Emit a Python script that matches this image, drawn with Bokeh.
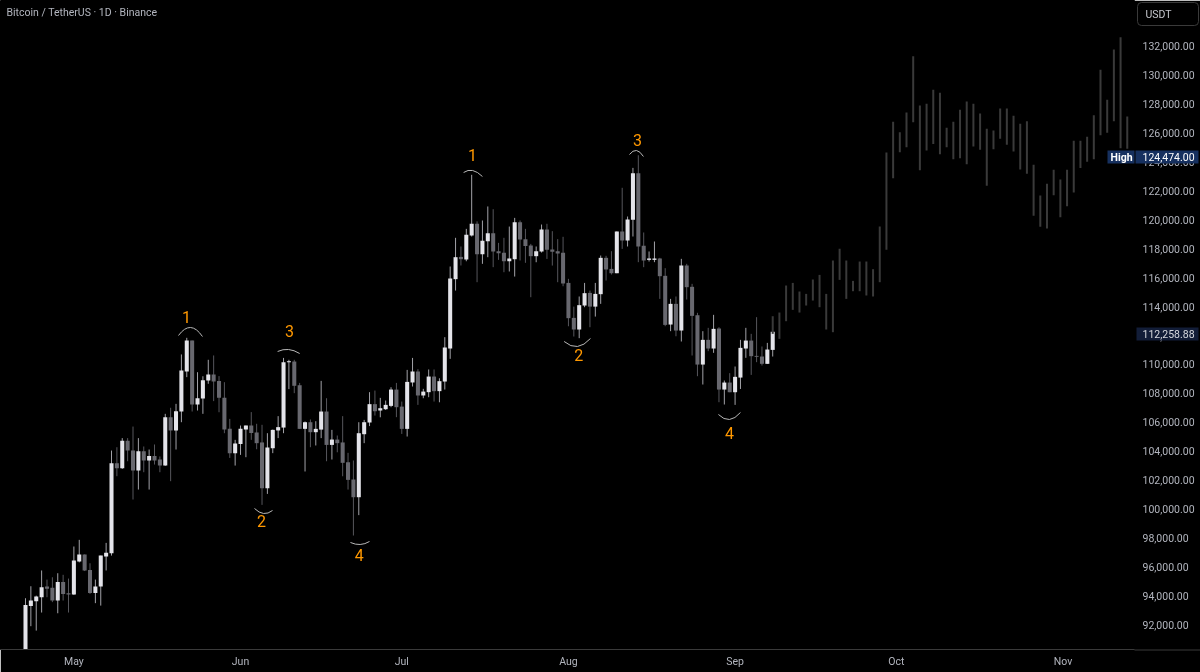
from bokeh.plotting import figure
from bokeh.models import Range1d, Label, FixedTicker, NumeralTickFormatter, LinearAxis
from bokeh.layouts import column
from bokeh.core.properties import value
from bokeh.embed import file_html
from bokeh.resources import INLINE
import numpy as np

# daily candles, bar 0 is 9 days before May 1
opens = [90200,93290,93610,93890,94630,94540,93660,94950,94170,94080,
96360,96850,95780,94190,94630,96700,96940,103165,102820,104710,
104040,102660,103995,103350,103670,103420,103000,106350,105430,106740,
109510,111650,107230,107640,108890,109300,108860,107690,105540,103860,
104500,105490,105770,105290,104600,101430,104200,105430,105630,110150,
110200,108560,105540,106000,105310,105490,106740,104430,104800,104600,
103230,102035,100810,105170,105980,107250,106810,106900,107130,108260,
107080,105540,108750,109510,107850,108080,109160,108150,108815,111100,
115900,117440,117260,118920,119730,117630,118530,119080,117835,117720,
117140,117280,119840,118670,118230,117490,117810,119335,117950,117835,
117720,115640,113220,112415,114075,114950,114000,114860,117375,116610,
116310,119200,118575,120005,123235,118205,117235,117235,117330,116130,
112760,114190,112345,116845,115370,113405,109990,111700,111100,112485,
108260,108745,108075,109090,111100,111650,110590,110545,110040,111005]

closes = [93360,93660,93940,94580,94470,93660,94950,94120,94080,96430,
96850,95740,94190,94630,96770,96960,103165,102820,104710,104040,
102660,103995,103350,103670,103350,103000,106350,105430,106760,109580,
111650,107230,107660,108910,109300,108820,107690,105490,103860,104530,
105540,105770,105260,104550,101430,104250,105470,105660,110150,110220,
108520,105540,106000,105310,105540,106740,104430,104800,104550,103190,
102010,100810,105240,106000,107250,106760,106970,107200,108260,107040,
105540,108790,109510,107850,108120,109160,108150,108840,111170,115945,
117420,117280,118970,119730,117630,118550,119080,117810,117700,117140,
117330,119840,118640,118200,117490,117835,119335,117930,117790,117675,
115600,113200,112415,114100,114930,114000,114880,117375,116570,116310,
119200,118575,120030,123235,118160,117190,117330,117330,116105,112735,
114190,112345,116845,115345,113360,109990,111700,111100,112460,108260,
108745,108075,109140,111145,111650,110570,110525,110040,111030,112258.88]

highs = [93820,94650,94000,95740,95110,95270,95550,95440,95180,97400,
97860,96850,96240,95110,96770,97650,104040,104270,104900,104900,
105700,104900,104320,104110,104460,103630,106580,107000,107270,110690,
111840,111650,109460,109180,110320,110620,109190,108770,106230,104780,
105770,105770,106700,105890,105820,105240,105490,106420,110450,110320,
110320,108720,106050,106190,106070,108860,107660,105470,105080,106420,
103880,103350,106000,106160,108080,108190,107685,107500,108420,108720,
107430,109620,110450,109670,108310,109650,109650,109040,111885,116775,
118760,118160,119380,123120,119900,119960,120930,120740,118410,118760,
119540,120140,119960,119380,118340,118160,119680,119730,119220,118670,
118830,115920,114000,114700,115640,115110,115640,117535,117515,117835,
119200,122220,120235,123600,124474,119130,117815,118505,117375,116660,
114535,114700,117305,116960,115575,113570,112300,112530,113430,112575,
108885,109395,109855,111700,112530,112115,113270,111240,111490,112300]

lows = [89900,91885,91580,92830,93890,93550,92780,93660,92830,94050,
96300,95700,94120,93480,93310,95740,96770,102265,102770,103300,
100650,101340,102540,101340,103070,102540,102980,101920,104110,106000,
109120,106740,106810,106580,108660,107460,106690,105240,103530,103000,
103740,103580,104780,104130,100280,101040,103860,104900,105240,108290,
108010,105540,102590,104270,104390,104900,103300,103420,103920,102260,
101340,98160,99570,104550,105730,106460,106340,106850,107040,106350,
105190,105010,108470,107200,107660,107730,107430,107380,108260,110385,
115110,116845,117140,118850,115690,116960,117420,116730,117235,116380,
116430,116080,117190,117030,114650,117070,117740,117300,116840,115690,
115410,112640,111930,111815,113960,112575,113310,114190,115805,116220,
116310,117995,118160,118850,117075,116730,117120,117075,114535,112645,
112300,111950,111585,114490,110615,109185,108610,110915,110800,107385,
107225,108075,107200,108300,110455,109275,110155,109925,110040,110545]

# faded projection bars after the last candle
ghost_high = [113336,113590,115460,115640,115045,114880,115875,116195,114880,117190,
118000,117190,115780,117120,117120,116590,119540,124660,126785,126070,
127430,131330,127920,128030,129000,128795,126370,126785,127615,128195,
128030,127360,126300,126185,127710,127710,127200,126650,126830,123810,
121690,122495,123465,122795,123465,125470,125470,125750,127250,130385,
128310,131790,132640,127150]
ghost_low = [112114,111770,112990,113775,113590,114075,114420,113960,112415,112230,
115850,114535,115065,115065,114770,114700,115690,117930,122890,124690,
125030,126760,123440,124800,125260,124550,125030,124200,124270,123860,
125080,124850,122355,124895,125610,125195,124735,123490,123190,120280,
119520,119405,121710,120190,120950,121895,123600,124020,124200,125860,
126025,126830,124960,124920]

# wave marks: bar, price
wave_text = ["1", "2", "3", "4", "1", "2", "3", "4"]
wave_x = [29.95, 43.9, 49.1, 62.1, 83.15, 102.9, 113.85, 130.95]
wave_y = [113247, 99130, 112278, 96777, 124457, 110686, 125564, 105220]
arc_x0 = [28.46, 42.6, 46.9, 60.45, 81.5, 100.2, 112.35, 128.9]
arc_x1 = [32.92, 45.95, 51.0, 63.99, 85.0, 105.1, 114.95, 133.0]
arc_cx = [30.69, 44.3, 48.9, 62.3, 83.1, 102.7, 113.65, 130.95]
arc_y0 = [112000, 100030, 110894, 97677, 123281, 111586, 124526, 106534]
arc_y1 = [111930, 99891, 110756, 97746, 123004, 111794, 124388, 106673]
arc_cy = [113143, 99407, 111240, 97365, 123696, 110790, 125149, 105773]

month_bars = [9, 40, 70, 101, 132, 162, 193]
month_names = ["May", "Jun", "Jul", "Aug", "Sep", "Oct", "Nov"]
price_ticks = list(range(92000, 134000, 2000))

bars = np.arange(len(opens))
o = np.array(opens)
c = np.array(closes)
up = c >= o

p = figure(width=1200, height=672, frame_width=1134, frame_height=649, output_backend="svg",
           toolbar_location=None, x_range=Range1d(-4.65, 206.3), y_range=Range1d(90272, 135183),
           background_fill_color="black", border_fill_color="black",
           min_border_left=0, min_border_top=0, min_border_right=66, min_border_bottom=23,
           x_axis_location="below", y_axis_location=None)
p.styles = {"position": "fixed", "left": "0px", "top": "0px"}
p.outline_line_color = "black"
p.grid.visible = False

# wicks first, bodies on top
p.segment(bars[up], np.array(highs)[up], bars[up], np.array(lows)[up], line_color="#a2a2a8", line_width=1)
p.segment(bars[~up], np.array(highs)[~up], bars[~up], np.array(lows)[~up], line_color="#56565c", line_width=1)
p.vbar(bars[up], 0.75, o[up], c[up], fill_color="#e4e4ea", line_color=None)
p.vbar(bars[~up], 0.75, c[~up], o[~up], fill_color="#68686f", line_color=None)

# same x axis, bars here are wider apart than the candles
ghost_x = 139 + 1.2444 * np.arange(len(ghost_high))
p.segment(ghost_x, ghost_high, ghost_x, ghost_low, line_color="#3a3a3a", line_width=2)

p.quadratic(arc_x0, arc_y0, arc_x1, arc_y1, arc_cx, arc_cy, line_color="#b8b8b8", line_width=1)
p.text(wave_x, wave_y, text=wave_text, text_color="#ff9800", text_font=value("Roboto"), text_font_size="16px",
       text_align="center", text_baseline="middle")

p.xaxis.ticker = FixedTicker(ticks=month_bars)
p.xaxis.major_label_overrides = dict(zip(month_bars, month_names))
p.xaxis.major_tick_line_color = None
p.xaxis.minor_tick_line_color = None
p.xaxis.major_tick_out = 0
p.xaxis.axis_line_color = "#3a3a3a"
p.xaxis.major_label_text_color = "#b2b5be"
p.xaxis.major_label_text_font = "Roboto"
p.xaxis.major_label_text_font_size = "10.5px"
p.xaxis.major_label_standoff = 5

yaxis = LinearAxis(ticker=FixedTicker(ticks=price_ticks), formatter=NumeralTickFormatter(format="0,0.00"))
yaxis.major_tick_line_color = None
yaxis.minor_tick_line_color = None
yaxis.major_tick_out = 0
yaxis.axis_line_color = None
yaxis.major_label_text_color = "#b2b5be"
yaxis.major_label_text_font = "Roboto"
yaxis.major_label_text_font_size = "10.5px"
yaxis.major_label_standoff = 8
p.add_layout(yaxis, "right")

p.add_layout(Label(x=6, y=637, x_units="screen", y_units="screen", text="Bitcoin / TetherUS · 1D · Binance",
                   text_color="#b2b5be", text_font="Roboto", text_font_size="10.5px", text_baseline="middle"))

# price tags sit over the axis, annotations of p get clipped to its frame so they get their own see-through figure
TAGS_X = 1100
TAGS_H = 672
tags = figure(width=100, height=TAGS_H, frame_width=100, frame_height=TAGS_H, output_backend="svg", toolbar_location=None,
              x_range=Range1d(0, 100), y_range=Range1d(0, TAGS_H), x_axis_location=None, y_axis_location=None,
              background_fill_alpha=0, border_fill_alpha=0, outline_line_color=None,
              min_border_left=0, min_border_top=0, min_border_right=0, min_border_bottom=0)
tags.styles = {"position": "fixed", "left": f"{TAGS_X}px", "top": "0px", "z-index": "10"}
tags.grid.visible = False

# pixel rows and columns are the frame's own here
tag_left = [1137, 1107, 1135, 1136]
tag_right = [1198, 1134, 1198, 1198]
tag_top = [2, 150, 150, 327]
tag_bottom = [25, 163, 163, 340]
tag_fill = [None, "#16305f", "#16305f", "#121d38"]
tag_border = ["#3a3a3a", None, None, None]
tag_text = ["USDT", "High", "124,474.00", "112,258.88"]
tag_text_x = [1145, 1110, 1142, 1142]
tag_text_y = [14, 156.5, 156.5, 333.5]
tag_color = ["#c4c6cc", "white", "white", "#d6d8de"]
tag_style = ["normal", "bold", "normal", "normal"]

for i in range(4):
    tags.quad(left=tag_left[i] - TAGS_X, right=tag_right[i] - TAGS_X, top=TAGS_H - tag_top[i], bottom=TAGS_H - tag_bottom[i],
              fill_color=tag_fill[i], line_color=tag_border[i], border_radius=4 if i == 0 else 0)
    tags.text([tag_text_x[i] - TAGS_X], [TAGS_H - tag_text_y[i]], text=[tag_text[i]], text_color=tag_color[i],
              text_font=value("Roboto"), text_font_size="10.5px", text_font_style=tag_style[i], text_baseline="middle")

# bottom rule runs on under the price scale
tags.segment([34], [TAGS_H - 649.5], [100], [TAGS_H - 649.5], line_color="#3a3a3a", line_width=1)

page = column(p, tags)
open("out.html", "w").write(file_html(page, INLINE))
